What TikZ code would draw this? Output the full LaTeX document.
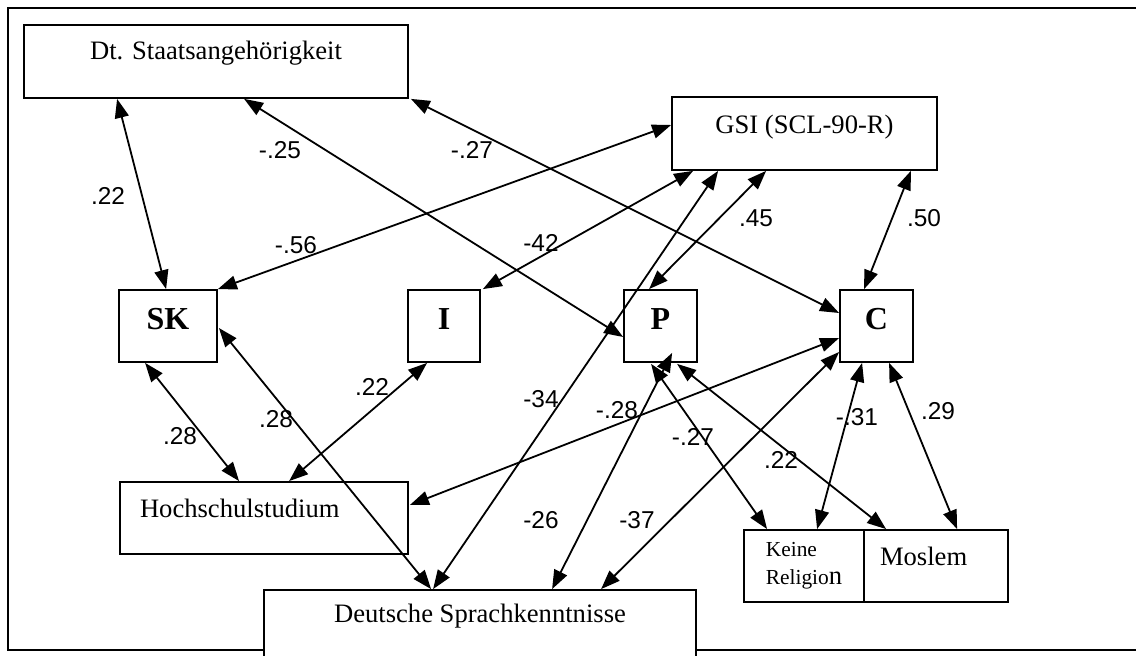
\documentclass[tikz,border=0pt]{standalone}
\usepackage{fontspec}
\setmainfont{Liberation Serif}
\newfontfamily\labfont{Liberation Sans}
\usetikzlibrary{arrows.meta,calc}

\begin{document}
\begin{tikzpicture}[x=0.5pt,y=-0.5pt,>={Triangle[length=9.5pt,width=7pt]},
box/.style={draw,line width=0.9pt,fill=white,inner sep=0pt,font=\fontsize{13.3}{16}\selectfont},
wbox/.style={box,minimum height=36.5pt,text height=10pt,text depth=10pt},
lbox/.style={box,minimum width=36.5pt,minimum height=36pt,font=\fontsize{16}{18}\selectfont\bfseries,text height=11pt,text depth=7pt},
arr/.style={<->,line width=0.9pt},
lab/.style={font=\labfont\fontsize{12.2}{14}\selectfont,inner sep=0pt}]
\useasboundingbox (0,0) rectangle (1136,656);
\draw[line width=1.3pt] (1140,8) -- (8,8) -- (8,650) -- (1140,650);
\node[wbox,minimum width=192pt,text depth=11.5pt] (staat) at (216,61.5) {Dt. Staatsangehörigkeit};
\node[wbox,minimum width=132.5pt] (gsi) at (804.5,133.5) {GSI (SCL-90-R)};
\node[lbox,minimum width=49pt] (sk) at (168,326) {SK};
\node[lbox,minimum width=36pt] (i) at (444,326) {I};
\node[lbox] (p) at (660.5,326) {P};
\node[lbox] (c) at (876.5,326) {C};
\node[wbox,minimum width=144pt,minimum height=36pt,align=left,text width=124pt,inner xsep=10pt] (hoch) at (264,518) {Hochschulstudium};
\node[wbox,minimum width=216pt,minimum height=37pt,text depth=14pt] (sprache) at (480,627) {Deutsche Sprachkenntnisse};
\node[box,minimum width=60pt,minimum height=36pt,align=left,font=\fontsize{10.7}{14}\selectfont] (keine) at (804,566) {Keine\\Religio{\fontsize{13.3}{14}\selectfont n}};
\node[wbox,minimum width=72pt,minimum height=36pt,align=left,text width=56pt,inner xsep=8pt] (moslem) at (936,566) {Moslem};
\draw[arr] ($(staat.south west)+(94,0)$) -- ($(sk.north west)+(48,0)$);
\draw[arr] ($(staat.south west)+(221,0)$) -- ($(p.west)+(0,11)$);
\draw[arr] ($(staat.south east)+(2,0)$) -- ($(c.west)+(0,-13)$);
\draw[arr] ($(gsi.west)+(0,-8.5)$) -- (sk.north east);
\draw[arr] ($(gsi.south west)+(22,0)$) -- ($(i.north east)+(2,0)$);
\draw[arr] ($(gsi.south west)+(47,0)$) -- ($(sprache.north west)+(170,0)$);
\draw[arr] ($(gsi.south west)+(95,0)$) -- ($(p.north west)+(26,0)$);
\draw[arr] ($(gsi.south east)+(-27,0)$) -- ($(c.north west)+(25,0)$);
\draw[arr] ($(sk.south west)+(27,0)$) -- ($(hoch.north west)+(120,0)$);
\draw[arr] ($(sk.east)+(1,2)$) -- ($(sprache.north west)+(168,0)$);
\draw[arr] ($(i.south west)+(20,0)$) -- ($(hoch.north west)+(170,0)$);
\draw[arr] ($(c.west)+(0,12)$) -- ($(hoch.east)+(1,-13)$);
\draw[arr] ($(p.south west)+(49,-10)$) -- ($(sprache.north west)+(289,0)$);
\draw[arr] ($(c.west)+(0,26)$) -- ($(sprache.north west)+(338,0)$);
\draw[arr] ($(p.south west)+(28,1)$) -- ($(keine.north west)+(24,0)$);
\draw[arr] ($(p.south west)+(54,1)$) -- ($(moslem.north west)+(23,0)$);
\draw[arr] ($(c.south west)+(23,0)$) -- ($(keine.north west)+(74,0)$);
\draw[arr] ($(c.south west)+(50,0)$) -- ($(moslem.north west)+(94,0)$);
\node[lab] (r1) at (108,196) {.22};
\node[lab] (r2) at (280,150) {-.25};
\node[lab] (r3) at (472,150) {-.27};
\node[lab] (r4) at (296,245) {-.56};
\node[lab] (r5) at (541,243) {-42};
\node[lab] (r6) at (541,399) {-34};
\node[lab] (r7) at (756,218) {.45};
\node[lab] (r8) at (924,218) {.50};
\node[lab] (r9) at (180,436) {.28};
\node[lab] (r10) at (276,419) {.28};
\node[lab] (r11) at (372,387) {.22};
\node[lab] (r12) at (617,410) {-.28};
\node[lab] (r13) at (541,520) {-26};
\node[lab] (r14) at (637,520) {-37};
\node[lab] (r15) at (693,437) {-.27};
\node[lab] (r16) at (781,460) {.22};
\node[lab] (r17) at (857,417) {-.31};
\node[lab] (r18) at (938,411) {.29};
\end{tikzpicture}
\end{document}
